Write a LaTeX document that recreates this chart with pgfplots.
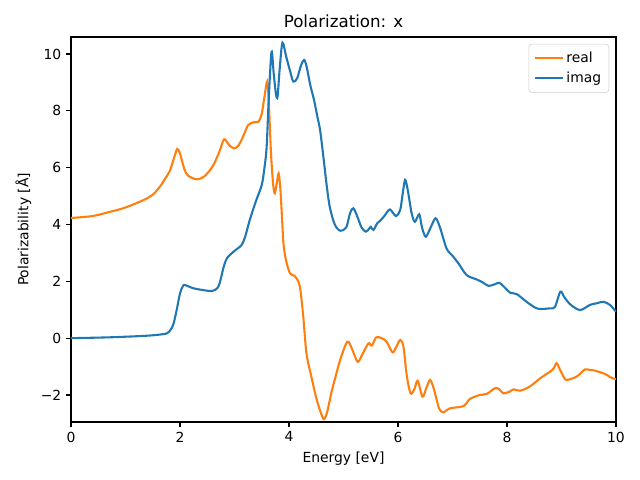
\documentclass[border=0pt]{standalone}
\usepackage{fontspec}
\setmainfont{DejaVu Sans}
\usepackage{pgfplots}
\pgfplotsset{compat=1.18}
\definecolor{cA}{HTML}{1F77B4}
\definecolor{cB}{HTML}{FF7F0E}
\begin{document}
\begin{tikzpicture}
\path[use as bounding box] (-51.12pt,-41.76pt) rectangle (409.68pt,303.84pt);
\begin{axis}[
  at={(0,0)}, anchor=south west,
  scale only axis, width=392.4pt, height=277.2pt,
  xmin=0, xmax=10, ymin=-2.95, ymax=10.6,
  xtick={0,2,4,6,8,10}, ytick={-2,0,2,4,6,8,10},
  yticklabels={−2,0,2,4,6,8,10},
  tick align=outside, tick pos=left,
  major tick length=3.5pt,
  every tick/.style={black, line width=0.8pt},
  axis line style={line width=0.8pt},
  /pgf/number format/assume math mode=true,
  ticklabel style={font=\fontsize{10}{12}\selectfont},
  xlabel={Energy [eV]}, ylabel={Polarizability [Å]},
  label style={font=\fontsize{10}{12}\selectfont},
  title={Polarization: x},
  title style={font=\fontsize{12}{14}\selectfont, yshift=-3pt},
  legend style={at={(1,1)}, anchor=north east, xshift=-5pt, yshift=-5pt,
    draw=black!20, rounded corners=2pt, font=\fontsize{10}{12}\selectfont,
    row sep=1.5pt, inner sep=3.5pt},
  legend cell align=left,
  legend image code/.code={\draw[#1, line width=1.5pt] (0pt,0pt) -- (20pt,0pt);},
  every axis plot/.append style={line width=1.5pt, smooth, tension=0.5},
]
\addplot[cB] coordinates {
(0,4.23) (0.4,4.3) (0.72,4.45) (1.0,4.6) (1.33,4.86) (1.5,5.05) (1.63,5.33) (1.75,5.68) (1.82,5.92) (1.9,6.4) (1.95,6.66) (2.0,6.5) (2.08,5.95) (2.15,5.72) (2.31,5.59) (2.45,5.7) (2.6,6.05) (2.72,6.55) (2.81,7.0) (2.9,6.8) (2.99,6.68) (3.08,6.8) (3.18,7.2) (3.25,7.5) (3.35,7.6) (3.44,7.62) (3.5,7.9) (3.55,8.5) (3.60,9.03) (3.63,8.3) (3.67,6.5) (3.71,5.4) (3.74,5.1) (3.78,5.5) (3.81,5.8) (3.84,5.3) (3.87,4.3) (3.90,3.3) (3.95,2.7) (4.02,2.28) (4.1,2.2) (4.14,2.1) (4.20,1.81) (4.26,0.8) (4.32,-0.53) (4.41,-1.35) (4.5,-2.1) (4.58,-2.6) (4.64,-2.85) (4.7,-2.6) (4.78,-1.9) (4.87,-1.24) (4.95,-0.7) (5.07,-0.12) (5.15,-0.35) (5.26,-0.83) (5.35,-0.55) (5.46,-0.18) (5.52,-0.26) (5.60,0.03) (5.70,0.0) (5.79,-0.12) (5.90,-0.5) (5.97,-0.3) (6.04,-0.06) (6.10,-0.3) (6.16,-1.3) (6.23,-1.94) (6.30,-1.8) (6.36,-1.5) (6.45,-2.06) (6.52,-1.75) (6.59,-1.47) (6.66,-1.8) (6.75,-2.45) (6.83,-2.61) (6.95,-2.47) (7.2,-2.39) (7.32,-2.14) (7.5,-2.0) (7.63,-1.96) (7.78,-1.76) (7.86,-1.8) (7.93,-1.94) (8.05,-1.88) (8.12,-1.8) (8.24,-1.85) (8.42,-1.7) (8.61,-1.41) (8.79,-1.18) (8.86,-1.05) (8.91,-0.88) (8.97,-1.1) (9.05,-1.4) (9.10,-1.47) (9.28,-1.35) (9.43,-1.1) (9.52,-1.12) (9.61,-1.14) (9.80,-1.26) (9.9,-1.38) (10.0,-1.45)
};
\addlegendentry{real}
\addplot[cA] coordinates {
(0,0) (0.7,0.03) (1.33,0.08) (1.6,0.12) (1.76,0.17) (1.83,0.3) (1.88,0.5) (1.94,1.0) (2.0,1.58) (2.05,1.82) (2.09,1.87) (2.24,1.76) (2.4,1.7) (2.58,1.66) (2.68,1.75) (2.73,1.95) (2.8,2.5) (2.86,2.81) (2.98,3.04) (3.13,3.28) (3.2,3.6) (3.28,4.16) (3.40,4.86) (3.50,5.39) (3.55,6.0) (3.59,6.74) (3.63,8.5) (3.68,10.08) (3.72,9.3) (3.76,8.6) (3.79,8.5) (3.83,9.5) (3.88,10.4) (3.95,9.9) (4.02,9.4) (4.08,9.03) (4.15,9.15) (4.22,9.6) (4.28,9.79) (4.33,9.5) (4.39,8.91) (4.46,8.38) (4.52,7.8) (4.57,7.33) (4.63,6.4) (4.69,5.4) (4.75,4.6) (4.84,4.0) (4.94,3.78) (5.05,3.9) (5.12,4.4) (5.18,4.57) (5.25,4.3) (5.33,3.9) (5.41,3.75) (5.47,3.85) (5.50,3.92) (5.55,3.81) (5.62,4.05) (5.67,4.13) (5.75,4.3) (5.85,4.53) (5.96,4.30) (6.04,4.51) (6.08,5.0) (6.13,5.57) (6.18,5.2) (6.25,4.4) (6.31,4.1) (6.39,4.36) (6.44,3.9) (6.51,3.57) (6.6,3.9) (6.69,4.22) (6.77,3.9) (6.89,3.16) (7.0,2.9) (7.11,2.63) (7.26,2.22) (7.44,2.07) (7.55,1.97) (7.66,1.84) (7.78,1.9) (7.86,1.95) (7.95,1.8) (8.06,1.6) (8.18,1.55) (8.36,1.28) (8.47,1.13) (8.58,1.03) (8.79,1.05) (8.88,1.1) (8.98,1.64) (9.05,1.45) (9.16,1.19) (9.34,0.99) (9.52,1.17) (9.65,1.23) (9.77,1.28) (9.89,1.17) (10.0,0.93)
};
\addlegendentry{imag}
\end{axis}
\end{tikzpicture}
\end{document}
